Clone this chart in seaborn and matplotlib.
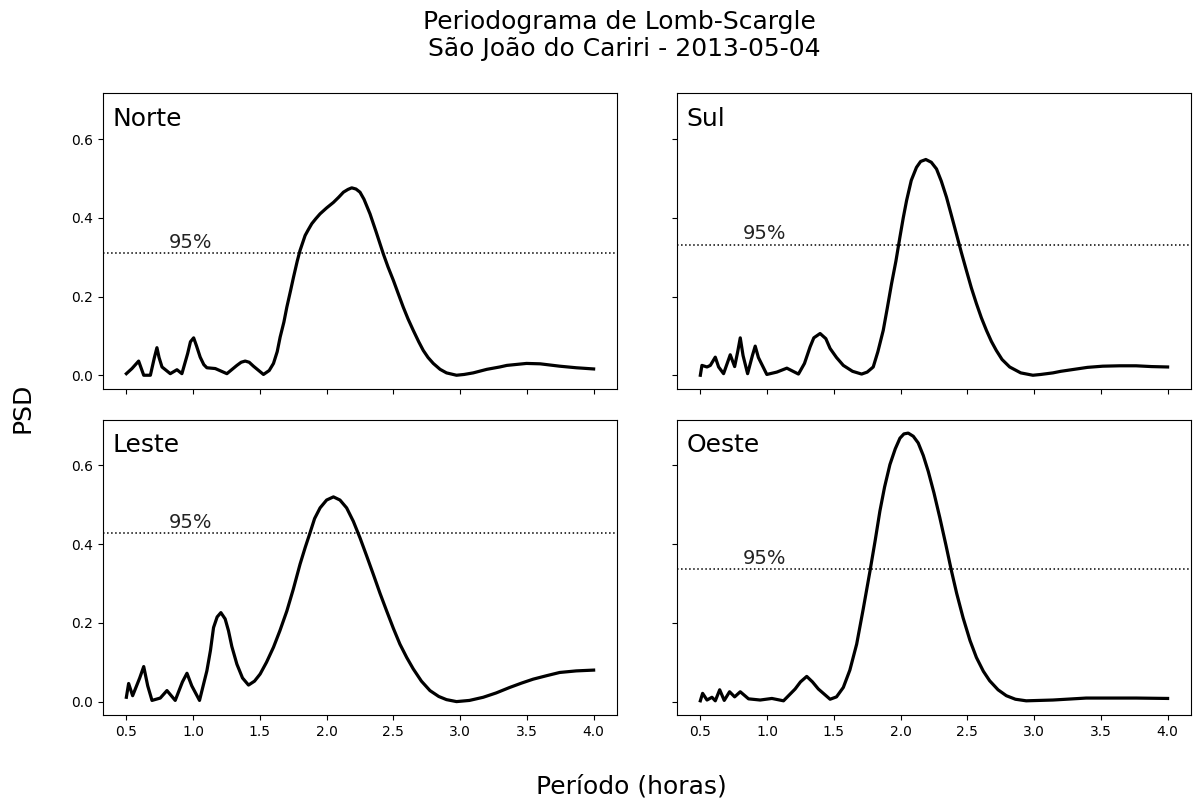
import numpy as np
import pandas as pd
import matplotlib
matplotlib.use("Agg")
import matplotlib.pyplot as plt
import seaborn as sns

# ---------------- data ----------------
panels = ["Norte", "Sul", "Leste", "Oeste"]

norte_x = [0.50, 0.542, 0.592, 0.630, 0.680, 0.710, 0.729, 0.745, 0.767, 0.829, 0.879, 0.916,
           0.959, 0.980, 1.004, 1.025, 1.053, 1.080, 1.103, 1.166, 1.253, 1.328, 1.360, 1.390,
           1.420, 1.452, 1.527, 1.570, 1.602, 1.630, 1.652, 1.680, 1.702, 1.730, 1.752, 1.780,
           1.801, 1.839, 1.860, 1.889, 1.920, 1.951, 2.000, 2.051, 2.090, 2.126, 2.160, 2.188,
           2.220, 2.250, 2.280, 2.325, 2.370, 2.425, 2.460, 2.500, 2.540, 2.574, 2.610, 2.649,
           2.690, 2.724, 2.760, 2.799, 2.850, 2.898, 2.973, 3.030, 3.098, 3.200, 3.297, 3.350,
           3.497, 3.600, 3.746, 3.870, 4.00]
norte_y = [0.004, 0.017, 0.036, 0.000, 0.000, 0.045, 0.070, 0.045, 0.021, 0.004, 0.014, 0.004,
           0.055, 0.085, 0.095, 0.075, 0.046, 0.027, 0.019, 0.017, 0.004, 0.025, 0.033, 0.036,
           0.033, 0.023, 0.002, 0.012, 0.030, 0.060, 0.097, 0.135, 0.173, 0.215, 0.249, 0.290,
           0.317, 0.355, 0.368, 0.385, 0.398, 0.410, 0.425, 0.439, 0.452, 0.465, 0.472, 0.476,
           0.473, 0.465, 0.447, 0.410, 0.365, 0.308, 0.275, 0.241, 0.204, 0.173, 0.143, 0.114,
           0.085, 0.063, 0.045, 0.030, 0.015, 0.006, 0.000, 0.002, 0.006, 0.015, 0.021, 0.025,
           0.030, 0.029, 0.023, 0.019, 0.016]

sul_x = [0.50, 0.512, 0.550, 0.575, 0.612, 0.637, 0.674, 0.724, 0.757, 0.780, 0.799, 0.820,
         0.854, 0.890, 0.911, 0.935, 0.998, 1.073, 1.148, 1.235, 1.280, 1.322, 1.350, 1.397,
         1.440, 1.472, 1.520, 1.571, 1.640, 1.708, 1.750, 1.795, 1.830, 1.870, 1.900, 1.932,
         1.965, 1.995, 2.020, 2.045, 2.080, 2.119, 2.150, 2.189, 2.230, 2.269, 2.305, 2.344,
         2.380, 2.418, 2.455, 2.493, 2.530, 2.568, 2.605, 2.643, 2.680, 2.717, 2.760, 2.817,
         2.900, 2.991, 3.050, 3.141, 3.200, 3.340, 3.400, 3.514, 3.640, 3.764, 3.880, 4.00]
sul_y = [0.000, 0.025, 0.021, 0.025, 0.046, 0.021, 0.004, 0.052, 0.022, 0.060, 0.095, 0.050,
         0.004, 0.050, 0.074, 0.045, 0.002, 0.008, 0.018, 0.003, 0.030, 0.072, 0.095, 0.106,
         0.093, 0.068, 0.045, 0.025, 0.010, 0.003, 0.008, 0.021, 0.060, 0.114, 0.170, 0.232,
         0.290, 0.351, 0.400, 0.444, 0.495, 0.528, 0.543, 0.548, 0.541, 0.524, 0.493, 0.452,
         0.407, 0.359, 0.312, 0.266, 0.222, 0.182, 0.146, 0.114, 0.086, 0.063, 0.040, 0.021,
         0.006, 0.000, 0.002, 0.006, 0.010, 0.017, 0.020, 0.023, 0.024, 0.024, 0.022, 0.021]

leste_x = [0.50, 0.517, 0.547, 0.600, 0.630, 0.660, 0.692, 0.754, 0.804, 0.866, 0.920, 0.954,
           0.990, 1.048, 1.103, 1.130, 1.153, 1.180, 1.208, 1.240, 1.265, 1.290, 1.328, 1.370,
           1.415, 1.460, 1.502, 1.550, 1.602, 1.650, 1.702, 1.750, 1.801, 1.840, 1.876, 1.910,
           1.951, 2.000, 2.051, 2.100, 2.150, 2.200, 2.250, 2.300, 2.350, 2.400, 2.450, 2.500,
           2.549, 2.600, 2.649, 2.710, 2.774, 2.840, 2.898, 2.973, 3.070, 3.173, 3.270, 3.372,
           3.460, 3.547, 3.650, 3.746, 3.870, 4.00]
leste_y = [0.011, 0.046, 0.015, 0.060, 0.089, 0.040, 0.003, 0.009, 0.028, 0.003, 0.050, 0.072,
           0.040, 0.003, 0.078, 0.130, 0.188, 0.215, 0.226, 0.210, 0.180, 0.140, 0.095, 0.060,
           0.042, 0.052, 0.070, 0.100, 0.138, 0.180, 0.230, 0.285, 0.349, 0.392, 0.429, 0.465,
           0.492, 0.512, 0.520, 0.512, 0.492, 0.458, 0.416, 0.370, 0.323, 0.275, 0.230, 0.186,
           0.146, 0.112, 0.083, 0.052, 0.028, 0.013, 0.005, 0.000, 0.003, 0.011, 0.022, 0.036,
           0.047, 0.057, 0.066, 0.074, 0.078, 0.080]

oeste_x = [0.50, 0.517, 0.550, 0.587, 0.612, 0.645, 0.679, 0.719, 0.757, 0.799, 0.861, 0.948,
           1.036, 1.123, 1.210, 1.250, 1.297, 1.340, 1.384, 1.472, 1.520, 1.571, 1.620, 1.671,
           1.720, 1.771, 1.810, 1.845, 1.880, 1.920, 1.960, 1.995, 2.025, 2.057, 2.095, 2.132,
           2.170, 2.207, 2.250, 2.294, 2.340, 2.381, 2.420, 2.468, 2.520, 2.568, 2.620, 2.667,
           2.730, 2.792, 2.860, 2.941, 3.141, 3.390, 3.764, 4.00]
oeste_y = [0.002, 0.021, 0.004, 0.011, 0.002, 0.030, 0.003, 0.025, 0.012, 0.025, 0.007, 0.004,
           0.008, 0.002, 0.032, 0.050, 0.064, 0.050, 0.032, 0.006, 0.012, 0.036, 0.080, 0.146,
           0.235, 0.332, 0.410, 0.484, 0.545, 0.602, 0.642, 0.669, 0.680, 0.682, 0.674, 0.657,
           0.625, 0.585, 0.530, 0.467, 0.397, 0.332, 0.275, 0.213, 0.155, 0.112, 0.077, 0.053,
           0.030, 0.015, 0.006, 0.002, 0.004, 0.009, 0.009, 0.008]

thresholds = [0.310, 0.331, 0.427, 0.336]
threshold_label = "95%"
xticks = [0.5, 1.0, 1.5, 2.0, 2.5, 3.0, 3.5, 4.0]
yticks = [0.0, 0.2, 0.4, 0.6]

title_text = "Periodograma de Lomb-Scargle\n São João do Cariri - 2013-05-04"
xlabel_text = "Período (horas)"
ylabel_text = "PSD"

series = {
    "Norte": (norte_x, norte_y),
    "Sul": (sul_x, sul_y),
    "Leste": (leste_x, leste_y),
    "Oeste": (oeste_x, oeste_y),
}

frames = []
for name in panels:
    xs, ys = series[name]
    frames.append(pd.DataFrame({"periodo": xs, "psd": ys, "direcao": name}))
df = pd.concat(frames, ignore_index=True)

# ---------------- figure ----------------
plt.rcParams["font.family"] = ["DejaVu Sans"]
fig, axes = plt.subplots(2, 2, sharex=True, sharey=True, figsize=(11.99, 7.99), dpi=100)
fig.subplots_adjust(left=0.0859, right=0.9933, top=0.8832, bottom=0.1051,
                    wspace=0.1167, hspace=0.105)

for ax, name, thr in zip(axes.flat, panels, thresholds):
    sub = df[df["direcao"] == name]
    sns.lineplot(data=sub, x="periodo", y="psd", ax=ax, color="black", linewidth=2.3,
                 estimator=None, sort=False, legend=False)
    ax.axhline(thr, color="black", linestyle=":", linewidth=1.1)
    ax.text(0.82, thr + 0.014, threshold_label, fontsize=14, va="baseline", ha="left",
            color="#222222")
    ax.text(0.019, 0.955, name, transform=ax.transAxes, fontsize=18, va="top", ha="left")
    ax.set_xlabel("")
    ax.set_ylabel("")
    ax.set_xticks(xticks)
    ax.set_yticks(yticks)
    ax.tick_params(labelsize=10)

fig.suptitle(title_text, x=0.517, y=0.988, fontsize=18, va="top")
fig.text(0.527, 0.016, xlabel_text, ha="center", va="center", fontsize=18)
fig.text(0.019, 0.489, ylabel_text, ha="center", va="center", rotation=90, fontsize=18)

fig.savefig("out.png", dpi=100)
